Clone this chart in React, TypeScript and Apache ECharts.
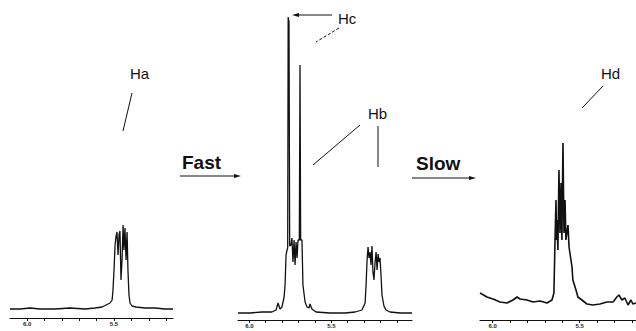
import React, { useEffect, useRef } from "react";
import * as echarts from "echarts";

// Panel 1 (Ha) – chemical shift (ppm) and intensity (a.u., baseline = 0)
const P1_PPM = [6.098, 6.04, 5.983, 5.925, 5.839, 5.753, 5.667, 5.609, 5.569, 5.546, 5.523, 5.511, 5.506, 5.5, 5.494, 5.489, 5.483, 5.477, 5.471, 5.466, 5.46, 5.454, 5.448, 5.443, 5.437, 5.431, 5.425, 5.42, 5.414, 5.408, 5.397, 5.374, 5.322, 5.264, 5.207, 5.161];
const P1_INT = [0, 0, 1, 0, 0, 1, 0, 1, 2, 4, 6, 9, 19, 39, 64, 72, 77, 54, 74, 78, 29, 49, 84, 59, 81, 49, 77, 39, 14, 6, 3, 2, 1, 1, 0, 0];

// Panel 2 (Hc, Hb)
const P2_PPM = [6.069, 5.996, 5.923, 5.862, 5.837, 5.825, 5.813, 5.801, 5.788, 5.782, 5.776, 5.77, 5.766, 5.763, 5.758, 5.754, 5.746, 5.74, 5.734, 5.727, 5.721, 5.715, 5.709, 5.703, 5.695, 5.691, 5.687, 5.679, 5.673, 5.66, 5.648, 5.636, 5.63, 5.618, 5.593, 5.508, 5.416, 5.355, 5.313, 5.294, 5.288, 5.282, 5.276, 5.27, 5.264, 5.258, 5.252, 5.246, 5.24, 5.233, 5.227, 5.221, 5.215, 5.209, 5.203, 5.197, 5.191, 5.179, 5.167, 5.142, 5.081, 5.008];
const P2_INT = [1, 1, 2, 2, 4, 11, 5, 7, 17, 29, 59, 64, 66, 297, 292, 68, 69, 76, 52, 74, 49, 72, 56, 74, 74, 249, 74, 74, 29, 12, 7, 6, 10, 5, 2, 1, 1, 2, 4, 11, 29, 54, 67, 56, 62, 49, 68, 42, 34, 52, 62, 44, 60, 52, 56, 39, 19, 8, 4, 2, 1, 1];

// Panel 3 (Hd)
const P3_PPM = [6.073, 6.033, 5.998, 5.958, 5.918, 5.883, 5.86, 5.843, 5.803, 5.768, 5.728, 5.688, 5.659, 5.648, 5.642, 5.636, 5.633, 5.63, 5.625, 5.619, 5.613, 5.607, 5.602, 5.596, 5.59, 5.584, 5.579, 5.567, 5.561, 5.556, 5.544, 5.539, 5.521, 5.51, 5.487, 5.458, 5.424, 5.383, 5.343, 5.308, 5.286, 5.274, 5.257, 5.24, 5.222, 5.205, 5.194, 5.176];
const P3_INT = [9, 5, 3, 0, -1, 2, 5, 3, 2, 0, 1, -1, 2, 9, 59, 102, 62, 82, 52, 132, 69, 119, 62, 159, 69, 102, 62, 77, 55, 49, 35, 22, 12, 5, 2, -2, -3, -2, 0, 0, 5, 7, 2, 4, -3, 2, -2, -1];

const TICKS_P1 = [5.2, 5.3, 5.4, 5.5, 5.6, 5.7, 5.8, 5.9, 6.0];
const TICKS_P2 = [5.1, 5.2, 5.3, 5.4, 5.5, 5.6, 5.7, 5.8, 5.9, 6.0];
const TICKS_P3 = [5.2, 5.3, 5.4, 5.5, 5.6, 5.7, 5.8, 5.9, 6.0];
const TICK_LABELS = [5.5, 6.0];

const INK = "#111";

function zip(a: number[], b: number[]) {
  return a.map((v, i) => [v, b[i]]);
}

export default function App() {
  const ref = useRef<HTMLDivElement>(null);
  useEffect(() => {
    if (!ref.current) return;
    const chart = echarts.init(ref.current, null, { renderer: "svg" });

    const panels = [
      { left: 10, width: 163, axisY: 318, min: 5.161, max: 6.098, yMin: -9, yMax: 309, ticks: TICKS_P1, data: zip(P1_PPM, P1_INT) },
      { left: 238, width: 174, axisY: 320, min: 5.008, max: 6.069, yMin: -6, yMax: 314, ticks: TICKS_P2, data: zip(P2_PPM, P2_INT) },
      { left: 480, width: 156, axisY: 320, min: 5.176, max: 6.073, yMin: -18, yMax: 302, ticks: TICKS_P3, data: zip(P3_PPM, P3_INT) },
    ];

    const txt = (text: string, x: number, y: number, size: number, bold = false) => ({
      type: "text",
      x,
      y,
      style: {
        text,
        fill: INK,
        font: `${bold ? "bold " : ""}${size}px "Liberation Sans", Arial, sans-serif`,
        textVerticalAlign: "middle",
      },
    });
    const ln = (x1: number, y1: number, x2: number, y2: number, dash?: number[]) => ({
      type: "line",
      shape: { x1, y1, x2, y2 },
      style: { stroke: INK, lineWidth: 1, lineDash: dash },
    });
    const head = (pts: number[][]) => ({
      type: "polygon",
      shape: { points: pts },
      style: { fill: INK },
    });

    chart.setOption({
      animation: false,
      backgroundColor: "#fff",
      grid: panels.map((p) => ({ left: p.left, width: p.width, top: 0, bottom: 331 - p.axisY })),
      xAxis: panels.map((p, i) => ({
        type: "value",
        gridIndex: i,
        min: p.min,
        max: p.max,
        inverse: true,
        axisLine: { show: true, onZero: false, lineStyle: { color: INK, width: 1.2 } },
        axisTick: { show: true, customValues: p.ticks, length: 3, inside: false, lineStyle: { color: INK, width: 1 } },
        axisLabel: {
          customValues: TICK_LABELS,
          formatter: (v: number) => v.toFixed(1),
          fontSize: 6,
          fontWeight: "bold",
          color: "#222",
          margin: 3,
          fontFamily: "Liberation Sans, Arial, sans-serif",
        },
        splitLine: { show: false },
      })),
      yAxis: panels.map((p, i) => ({ type: "value", gridIndex: i, min: p.yMin, max: p.yMax, show: false })),
      series: panels.map((p, i) => ({
        type: "line",
        xAxisIndex: i,
        yAxisIndex: i,
        symbol: "none",
        showSymbol: false,
        lineStyle: { color: INK, width: i === 2 ? 1.6 : 1.3 },
        data: p.data,
      })),
      graphic: [
        txt("Ha", 130, 73, 15),
        ln(132, 93, 123, 131),
        txt("Fast", 182, 162, 19, true),
        ln(180, 176, 236, 176),
        head([[241, 176], [234, 174], [234, 178]]),
        txt("Hc", 338, 18, 15),
        ln(332, 15, 297, 15),
        head([[292, 15], [299, 13], [299, 17]]),
        ln(339, 28, 316, 42, [3, 2]),
        txt("Hb", 368, 113, 15),
        ln(360, 125, 313, 165),
        ln(378, 126, 378, 167),
        txt("Slow", 416, 163, 19, true),
        ln(412, 178, 470, 178),
        head([[476, 178], [469, 176], [469, 180]]),
        txt("Hd", 601, 73, 15),
        ln(603, 86, 582, 108),
      ],
    });
    return () => chart.dispose();
  }, []);
  return <div ref={ref} style={{ position: "fixed", left: 0, top: 0, width: 636, height: 331 }} />;
}
